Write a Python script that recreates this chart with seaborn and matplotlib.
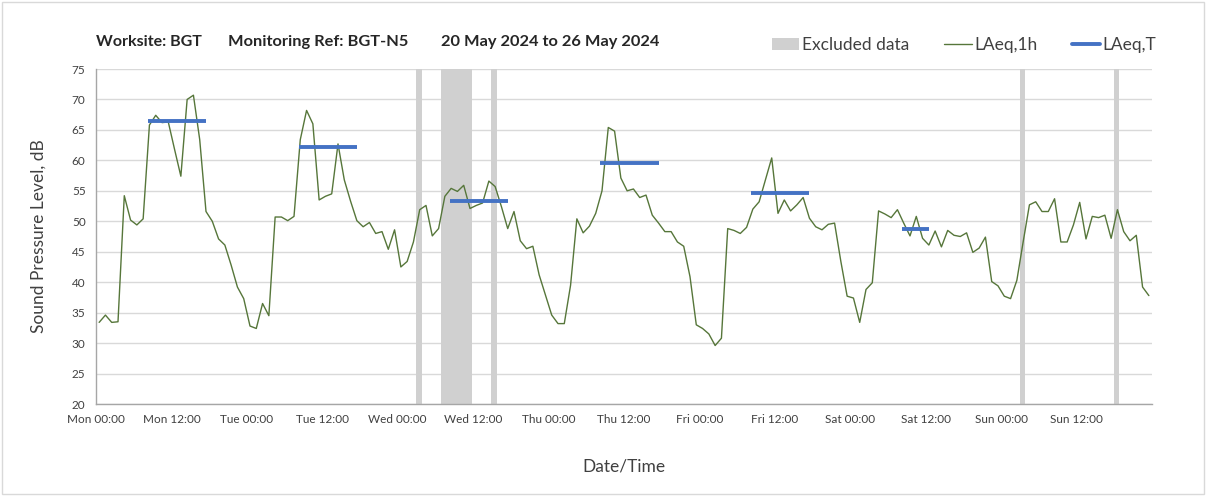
import numpy as np
import pandas as pd
import matplotlib
matplotlib.use("Agg")
import matplotlib.pyplot as plt
from matplotlib.patches import Patch, Rectangle
from matplotlib.lines import Line2D
import seaborn as sns

# hourly LAeq,1h readings, Mon 00:00 .. Sun 23:00
laeq_1h = [
    33.4, 34.6, 33.4, 33.5, 54.2, 50.2, 49.4, 50.4, 65.8, 67.4, 66.2, 66.3,
    61.8, 57.4, 70.0, 70.7, 63.4, 51.6, 50.0, 47.1, 46.1, 42.8, 39.2, 37.3,
    32.8, 32.4, 36.5, 34.5, 50.7, 50.7, 50.1, 50.8, 63.4, 68.2, 66.0, 53.5,
    54.1, 54.5, 62.7, 56.8, 53.3, 50.1, 49.1, 49.8, 48.0, 48.3, 45.4, 48.6,
    42.5, 43.4, 46.6, 51.9, 52.6, 47.6, 48.8, 54.1, 55.4, 54.9, 55.9, 52.1,
    52.6, 53.0, 56.6, 55.7, 52.4, 48.8, 51.6, 46.8, 45.5, 45.9, 41.2, 37.9,
    34.6, 33.2, 33.2, 39.5, 50.4, 48.1, 49.2, 51.3, 55.0, 65.4, 64.8, 57.1,
    55.0, 55.3, 53.9, 54.3, 51.0, 49.7, 48.3, 48.3, 46.6, 45.9, 40.9, 33.0,
    32.4, 31.5, 29.6, 30.8, 48.8, 48.5, 48.0, 49.0, 52.0, 53.2, 56.8, 60.4,
    51.3, 53.5, 51.7, 52.7, 53.9, 50.5, 49.1, 48.6, 49.5, 49.7, 43.4, 37.7,
    37.4, 33.4, 38.8, 39.9, 51.7, 51.2, 50.6, 51.9, 49.7, 47.6, 50.8, 47.2,
    46.1, 48.4, 45.8, 48.5, 47.7, 47.5, 48.1, 44.9, 45.6, 47.4, 40.1, 39.4,
    37.7, 37.3, 40.3, 46.6, 52.7, 53.2, 51.6, 51.6, 53.7, 46.6, 46.6, 49.4,
    53.1, 47.1, 50.8, 50.6, 51.0, 47.2, 51.9, 48.3, 46.8, 47.7, 39.2, 37.8,
]

# LAeq,T over the working periods (hours from Mon 00:00)
period_start = [8.25, 32.25, 56.25, 80.25, 104.25, 128.25]
period_end = [17.5, 41.5, 65.5, 89.5, 113.5, 132.6]
laeq_t = [66.4, 62.2, 53.4, 59.5, 54.6, 48.7]

# excluded data windows (hours from Mon 00:00)
excl_start = [50.9, 54.9, 62.9, 147.0, 161.9]
excl_end = [51.9, 59.8, 63.8, 147.8, 162.8]

day_names = ["Mon", "Tue", "Wed", "Thu", "Fri", "Sat", "Sun"]
tick_labels = [f"{d} {t}" for d in day_names for t in ("00:00", "12:00")]

sns.set_theme(style="white")
plt.rcParams["font.family"] = ["Lato", "DejaVu Sans"]

green = "#56763a"
blue = "#4472c4"
grey = "#d0d0d0"
text_col = "#404040"

df = pd.DataFrame({"hour": np.arange(len(laeq_1h)) + 0.5, "LAeq,1h": laeq_1h})

fig = plt.figure(figsize=(12.08, 4.96), dpi=100)
ax = fig.add_axes([96 / 1208, 1 - 404 / 496, (1152 - 96) / 1208, (404 - 69) / 496])

for s, e in zip(excl_start, excl_end):
    ax.axvspan(s, e, color=grey, lw=0, zorder=1)

sns.lineplot(data=df, x="hour", y="LAeq,1h", ax=ax, color=green, lw=1.0, zorder=3)
ax.hlines(laeq_t, period_start, period_end, colors=blue, lw=2.8, zorder=4)

ax.set_xlim(0, 168)
ax.set_ylim(20, 75)
ax.set_yticks(np.arange(20, 76, 5))
ax.set_xticks(np.arange(0, 169, 12))
ax.set_xticklabels(tick_labels + [""])
ax.set_xticks(np.arange(0, 169, 24), minor=True)
ax.grid(axis="y", color="#d9d9d9", lw=1.0, zorder=0)
ax.grid(axis="x", which="minor", color="#e3e3e3", lw=1.0, zorder=0)
ax.set_axisbelow(True)
ax.tick_params(axis="both", which="major", labelsize=8.5, colors="#a6a6a6",
               labelcolor=text_col, length=4, width=1, direction="out")
ax.tick_params(axis="x", which="minor", length=0)
ax.tick_params(axis="x", pad=3)
for side in ("top", "right"):
    ax.spines[side].set_visible(False)
for side in ("left", "bottom"):
    ax.spines[side].set_color("#a6a6a6")
    ax.spines[side].set_linewidth(1.0)

ax.set_xlabel("Date/Time", fontsize=12.5, color=text_col, labelpad=24)
ax.set_ylabel("Sound Pressure Level, dB", fontsize=12.5, color=text_col, labelpad=18)

title_y = 1 - 42 / 496
fig.text(96 / 1208, title_y, "Worksite: BGT", fontsize=11.5, fontweight="bold", va="center")
fig.text(228 / 1208, title_y, "Monitoring Ref: BGT-N5", fontsize=11.8, fontweight="bold", va="center")
fig.text(441 / 1208, title_y, "20 May 2024 to 26 May 2024", fontsize=11.8, fontweight="bold", va="center")

handles = [
    Patch(facecolor=grey, edgecolor="none", label="Excluded data"),
    Line2D([], [], color=green, lw=1.0, label="LAeq,1h"),
    Line2D([], [], color=blue, lw=2.8, label="LAeq,T"),
]
leg = fig.legend(handles=handles, loc="center right", bbox_to_anchor=(1172 / 1208, 1 - 45 / 496),
                 ncol=3, frameon=False, fontsize=12.5, handlelength=1.6, handletextpad=0.15,
                 columnspacing=2.0)
for t in leg.get_texts():
    t.set_color(text_col)

fig.patches.append(Rectangle((0.002, 0.004), 0.995, 0.992, transform=fig.transFigure,
                             fill=False, edgecolor="#d9d9d9", lw=1.0))

fig.savefig("out.png", dpi=100)
